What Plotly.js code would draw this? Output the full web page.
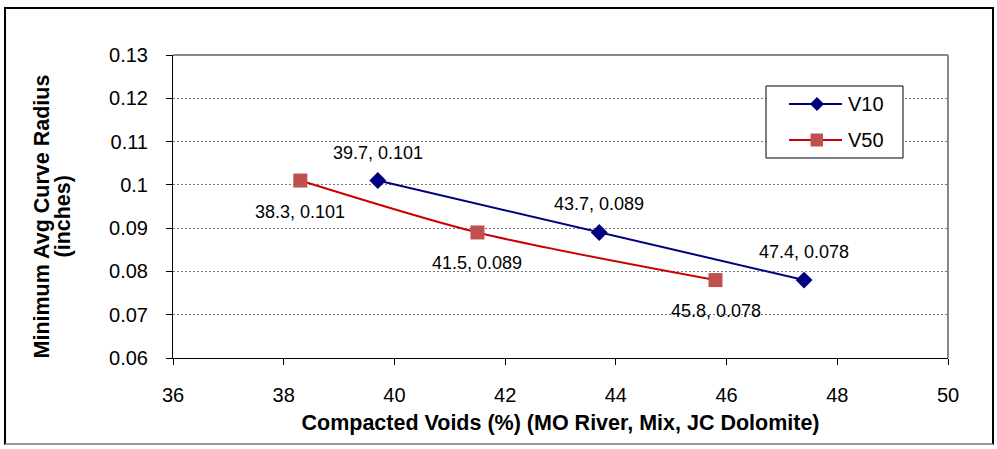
<!DOCTYPE html>
<html>
<head>
<meta charset="utf-8">
<script src="https://cdn.plot.ly/plotly-3.0.1.min.js"></script>
<style>
  html, body { margin: 0; padding: 0; background: #fff; }
  #wrap { position: relative; width: 997px; height: 449px; overflow: hidden; }
  #chart { width: 997px; height: 449px; }
  #frame { position: absolute; left: 4px; top: 7px; width: 986px; height: 434px;
           border: 2px solid #000; border-bottom-color: #999; pointer-events: none; }
</style>
</head>
<body>
<div id="wrap">
  <div id="chart"></div>
  <div id="frame"></div>
</div>
<script>
// Compacted voids (%) vs. minimum average curve radius (in)
const seriesNames = ['V10', 'V50'];
const v10X = [39.7, 43.7, 47.4];
const v10Y = [0.101, 0.089, 0.078];
const v50X = [38.3, 41.5, 45.8];
const v50Y = [0.101, 0.089, 0.078];

const xTicks = [36, 38, 40, 42, 44, 46, 48, 50];
const yTicks = [0.06, 0.07, 0.08, 0.09, 0.1, 0.11, 0.12, 0.13];
const yTickText = ['0.06', '0.07', '0.08', '0.09', '0.1', '0.11', '0.12', '0.13'];
const yTitleLines = ['Minimum Avg Curve Radius', '(inches)'];

const FONT = 'Liberation Sans, Arial, sans-serif';
const BLUE = '#000080', RED = '#CC0000', RED_MARK = '#C0504D';

const traces = [
  {
    name: seriesNames[0], x: v10X, y: v10Y, type: 'scatter', mode: 'lines+markers',
    showlegend: false,
    line: { color: BLUE, width: 2 },
    marker: { symbol: 'diamond', size: 13, color: BLUE }
  },
  {
    name: seriesNames[1], x: v50X, y: v50Y, type: 'scatter', mode: 'lines+markers',
    showlegend: false,
    line: { color: RED, width: 2, shape: 'spline', smoothing: 0.8 },
    marker: { symbol: 'square', size: 14, color: RED_MARK }
  }
];

// Point labels "x, y": V10 above its points, V50 below
function labels(xs, ys, yshift) {
  return xs.map((x, i) => ({
    x: x, y: ys[i], xref: 'x', yref: 'y',
    text: x.toFixed(1) + ', ' + ys[i].toFixed(3),
    showarrow: false, yshift: yshift,
    font: { family: FONT, size: 18, color: '#000' }
  }));
}

// Two-line vertical axis title, tightly spaced
const yTitle = yTitleLines.map((t, i) => ({
  xref: 'paper', yref: 'paper', x: 0, y: 0.5,
  xanchor: 'center', yanchor: 'middle',
  xshift: -132 + i * 21, yshift: -10,
  text: t, textangle: -90, showarrow: false,
  font: { family: FONT, size: 21.5, color: '#000', weight: 'bold' }
}));

// Legend box anchored at the top-right corner of the plot area (pixel offsets)
function pix(extra) {
  return Object.assign({
    xref: 'paper', yref: 'paper', xsizemode: 'pixel', ysizemode: 'pixel',
    xanchor: 1, yanchor: 1
  }, extra);
}
const legendRows = [-49, -85];
const legendShapes = [
  pix({ type: 'rect', x0: -182, x1: -45, y0: -31, y1: -103,
        line: { color: '#000', width: 1 }, fillcolor: '#fff' }),
  pix({ type: 'line', x0: -159, x1: -106, y0: legendRows[0], y1: legendRows[0],
        line: { color: BLUE, width: 2 } }),
  pix({ type: 'path', path: `M -131 ${legendRows[0] + 7} L -124 ${legendRows[0]} L -131 ${legendRows[0] - 7} L -138 ${legendRows[0]} Z`,
        line: { width: 0 }, fillcolor: BLUE }),
  pix({ type: 'line', x0: -159, x1: -106, y0: legendRows[1], y1: legendRows[1],
        line: { color: RED, width: 2 } }),
  pix({ type: 'rect', x0: -137.5, x1: -125, y0: legendRows[1] - 6.5, y1: legendRows[1] + 6.5,
        line: { width: 0 }, fillcolor: RED_MARK })
];
const legendText = seriesNames.map((n, i) => ({
  xref: 'paper', yref: 'paper', x: 1, y: 1, xanchor: 'left', yanchor: 'middle',
  xshift: -102, yshift: legendRows[i], text: n, showarrow: false,
  font: { family: FONT, size: 20, color: '#000' }
}));

const layout = {
  width: 997, height: 449,
  margin: { l: 173, r: 49, t: 55, b: 91 },
  paper_bgcolor: '#fff', plot_bgcolor: '#fff',
  showlegend: false,
  xaxis: {
    range: [36, 50], tickvals: xTicks, ticktext: xTicks.map(String),
    showgrid: false, zeroline: false,
    showline: true, linecolor: '#000', linewidth: 1,
    ticks: 'outside', ticklen: 6, tickcolor: '#000', ticklabelstandoff: 13,
    tickfont: { family: FONT, size: 20, color: '#000' },
    title: { text: 'Compacted Voids (%) (MO River, Mix, JC Dolomite)', standoff: 9,
             font: { family: FONT, size: 21.5, color: '#000', weight: 'bold' } }
  },
  yaxis: {
    range: [0.06, 0.13], tickvals: yTicks, ticktext: yTickText,
    showgrid: true, gridcolor: '#777', gridwidth: 1, griddash: '2px,2px',
    zeroline: false,
    showline: true, linecolor: '#000', linewidth: 1,
    ticks: 'outside', ticklen: 6, tickcolor: '#000', ticklabelstandoff: 14,
    tickfont: { family: FONT, size: 20, color: '#000' }
  },
  shapes: [
    { type: 'line', xref: 'paper', yref: 'paper', x0: 0, x1: 1, y0: 1, y1: 1,
      line: { color: '#888', width: 2 } },
    { type: 'line', xref: 'paper', yref: 'paper', x0: 1, x1: 1, y0: 0, y1: 1,
      line: { color: '#888', width: 2 } }
  ].concat(legendShapes),
  annotations: labels(v10X, v10Y, 28).concat(labels(v50X, v50Y, -31), yTitle, legendText)
};

Plotly.newPlot('chart', traces, layout, { displayModeBar: false, staticPlot: true });
</script>
</body>
</html>
